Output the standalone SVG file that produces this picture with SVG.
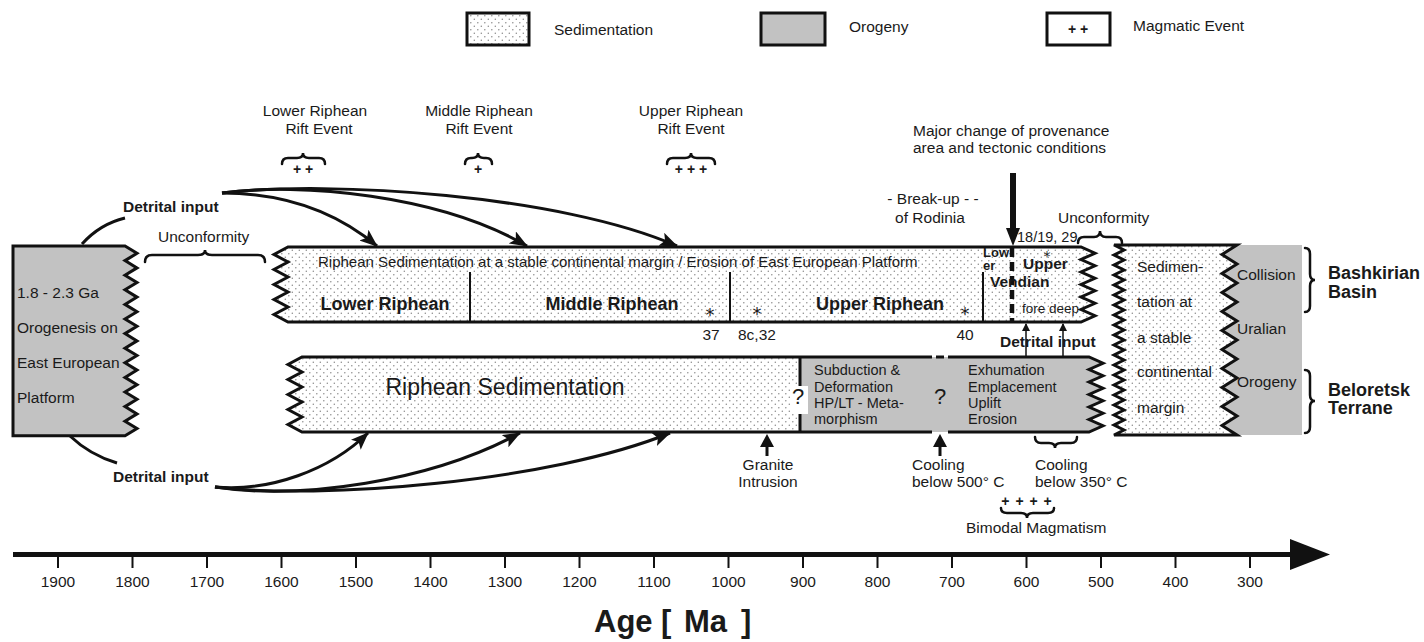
<svg xmlns="http://www.w3.org/2000/svg" width="1424" height="642" viewBox="0 0 1424 642">
<defs>
<pattern id="dots" patternUnits="userSpaceOnUse" width="7" height="7">
<rect width="7" height="7" fill="#ffffff"/>
<circle cx="1.8" cy="1.8" r="0.75" fill="#8a8a8a"/>
<circle cx="5.3" cy="5.3" r="0.75" fill="#8a8a8a"/>
</pattern>
<marker id="ah" markerUnits="userSpaceOnUse" markerWidth="20" markerHeight="14" refX="17" refY="7" orient="auto">
<path d="M0,0 L18,7 L0,14 L4,7 Z" fill="#111"/>
</marker>
<marker id="ahs" markerUnits="userSpaceOnUse" markerWidth="8" markerHeight="8" refX="7" refY="4" orient="auto">
<path d="M0,0 L8,4 L0,8 Z" fill="#111"/>
</marker>
<style>
.t{font-family:"Liberation Sans",Arial,sans-serif;fill:#1a1a1a;font-size:15.5px}
.b{font-weight:bold}
.m{text-anchor:middle}
.box{stroke:#111;stroke-width:3;stroke-linejoin:miter}
.gray{fill:#c2c2c2}
.ln{fill:none;stroke:#111;stroke-width:3}
.thin{fill:none;stroke:#111;stroke-width:2}
.br{fill:none;stroke:#111;stroke-width:2.5;stroke-linecap:round}
.ast{font-family:"DejaVu Sans",sans-serif;fill:#1a1a1a;font-size:18px;text-anchor:middle}
</style>
</defs>
<rect width="1424" height="642" fill="#ffffff"/>

<g id="legend">
<rect x="467" y="13" width="62" height="32" fill="url(#dots)" class="box"/>
<text x="554" y="35" class="t">Sedimentation</text>
<rect x="761" y="13" width="64" height="32" class="box gray"/>
<text x="849" y="32" class="t">Orogeny</text>
<rect x="1047" y="13" width="63" height="32" fill="#fff" class="box"/>
<text x="1078" y="34" class="t b m" style="font-size:14px">+ +</text>
<text x="1133" y="31" class="t">Magmatic Event</text>
</g>

<g id="rift-events">
<text x="315" y="116" class="t m">Lower Riphean</text>
<text x="319" y="134" class="t m">Rift Event</text>
<path class="br" d="M282,164 Q282,158 288,158 L297,158 Q303,158 303,153 Q303,158 309,158 L319,158 Q325,158 325,164"/>
<text x="303" y="174" class="t b m" style="font-size:14px">+ +</text>
<text x="479" y="116" class="t m">Middle Riphean</text>
<text x="479" y="134" class="t m">Rift Event</text>
<path class="br" d="M465,164 Q465,158 471,158 L472,158 Q478,158 478,153 Q478,158 484,158 L486,158 Q492,158 492,164"/>
<text x="478" y="174" class="t b m" style="font-size:14px">+</text>
<text x="691" y="116" class="t m">Upper Riphean</text>
<text x="691" y="134" class="t m">Rift Event</text>
<path class="br" d="M667,164 Q667,158 673,158 L685,158 Q691,158 691,153 Q691,158 697,158 L709,158 Q715,158 715,164"/>
<text x="691" y="174" class="t b m" style="font-size:14px">+ + +</text>
</g>

<g id="provenance">
<text x="913" y="136" class="t">Major change of provenance</text>
<text x="913" y="153" class="t">area and tectonic conditions</text>
<line x1="1013" y1="173" x2="1013" y2="230" stroke="#111" stroke-width="6"/>
<path d="M1006,228 L1020,228 L1013,246 Z" fill="#111"/>
<text x="933" y="204" class="t m">- Break-up - -</text>
<text x="930" y="223" class="t m">of Rodinia</text>
</g>

<g id="platform">
<path class="box gray" d="M13,246 H125 l12,7.3 l-12,7.3 l12,7.3 l-12,7.3 l12,7.3 l-12,7.3 l12,7.3 l-12,7.3 l12,7.3 l-12,7.3 l12,7.3 l-12,7.3 l12,7.3 l-12,7.3 l12,7.3 l-12,7.3 l12,7.3 l-12,7.3 l12,7.3 l-12,7.3 l12,7.3 l-12,7.3 l12,7.3 l-12,7.3 l12,7.3 l-12,7.3 H13 Z"/>
<text x="17" y="298" class="t">1.8 - 2.3 Ga</text>
<text x="17" y="333" class="t">Orogenesis on</text>
<text x="17" y="368" class="t">East European</text>
<text x="17" y="403" class="t">Platform</text>
</g>

<g id="unconformity-left">
<text x="158" y="242" class="t">Unconformity</text>
<path class="br" d="M145,262 Q145,255 152,255 L198,255 Q205,255 205,250 Q205,255 212,255 L258,255 Q265,255 265,262"/>
</g>

<g id="bashkirian-band">
<path class="box" fill="url(#dots)" d="M288,247 H1081 l14,6.25 l-14,6.25 l14,6.25 l-14,6.25 l14,6.25 l-14,6.25 l14,6.25 l-14,6.25 l14,6.25 l-14,6.25 l14,6.25 l-14,6.25 H288 l-14,-7.5 l14,-7.5 l-14,-7.5 l14,-7.5 l-14,-7.5 l14,-7.5 l-14,-7.5 l14,-7.5 l-14,-7.5 l14,-7.5 Z"/>
<line x1="470" y1="272" x2="470" y2="322" class="thin"/>
<line x1="730" y1="272" x2="730" y2="322" class="thin"/>
<line x1="983" y1="272" x2="983" y2="322" class="thin"/>
<line x1="1012" y1="248" x2="1012" y2="322" stroke="#111" stroke-width="4.5" stroke-dasharray="9,5"/>
<text x="318" y="267" class="t" style="font-size:15px">Riphean Sedimentation at a stable continental margin / Erosion of East European Platform</text>
<text x="385" y="310" class="t b m" style="font-size:18px">Lower Riphean</text>
<text x="612" y="310" class="t b m" style="font-size:18px">Middle Riphean</text>
<text x="880" y="310" class="t b m" style="font-size:18px">Upper Riphean</text>
<text x="983" y="257" class="t b" style="font-size:13px">Low</text>
<text x="983" y="270" class="t b" style="font-size:13px">er</text>
<text class="t b" style="font-size:15.5px"><tspan x="1047" y="261" style="font-family:'DejaVu Sans',sans-serif;font-weight:normal;font-size:14px;text-anchor:middle">*</tspan><tspan x="1023" y="269">Upper</tspan></text>
<text x="990" y="287" class="t b" style="font-size:15.5px">Vendian</text>
<text x="1022" y="313" class="t" style="font-size:13.5px">fore deep</text>
<text x="710" y="321" class="ast">*</text>
<text x="757" y="320" class="ast">*</text>
<text x="965" y="320" class="ast">*</text>
<text x="711" y="340" class="t m">37</text>
<text x="738" y="340" class="t">8c,32</text>
<text x="965" y="340" class="t m">40</text>
<text x="1017" y="242" class="t" style="font-size:14.5px">18/19, 29</text>
</g>

<g id="unconformity-right">
<text x="1058" y="223" class="t">Unconformity</text>
<path class="br" d="M1078,243 Q1078,237 1084,237 L1094,237 Q1100,237 1100,231 Q1100,237 1106,237 L1116,237 Q1122,237 1122,243"/>
</g>

<g id="beloretsk-band">
<path fill="url(#dots)" d="M302,357 H800 V432 H302 l-14,-7.5 l14,-7.5 l-14,-7.5 l14,-7.5 l-14,-7.5 l14,-7.5 l-14,-7.5 l14,-7.5 l-14,-7.5 l14,-7.5 Z"/>
<path class="gray" d="M800,357 H1089 l14,6.25 l-14,6.25 l14,6.25 l-14,6.25 l14,6.25 l-14,6.25 l14,6.25 l-14,6.25 l14,6.25 l-14,6.25 l14,6.25 l-14,6.25 H800 Z"/>
<path class="ln" stroke-linejoin="miter" d="M932,357 H302 l-14,7.5 l14,7.5 l-14,7.5 l14,7.5 l-14,7.5 l14,7.5 l-14,7.5 l14,7.5 l-14,7.5 l14,7.5 H932 M948,357 H1089 l14,6.25 l-14,6.25 l14,6.25 l-14,6.25 l14,6.25 l-14,6.25 l14,6.25 l-14,6.25 l14,6.25 l-14,6.25 l14,6.25 l-14,6.25 H948 M936,357 H944"/>
<line x1="800" y1="357" x2="800" y2="386" class="ln"/>
<line x1="800" y1="414" x2="800" y2="432" class="ln"/>
<rect x="791" y="386" width="17" height="28" fill="#fff"/>
<text x="798" y="404" class="t m" style="font-size:22px">?</text>
<text x="940" y="404" class="t m" style="font-size:22px">?</text>
<text x="505" y="395" class="t m" style="font-size:23px">Riphean Sedimentation</text>
<text x="814" y="375" class="t" style="font-size:14.5px">Subduction &amp;</text>
<text x="814" y="392" class="t" style="font-size:14.5px">Deformation</text>
<text x="814" y="408" class="t" style="font-size:14.5px">HP/LT - Meta-</text>
<text x="814" y="424" class="t" style="font-size:14.5px">morphism</text>
<text x="968" y="375" class="t" style="font-size:14.5px">Exhumation</text>
<text x="968" y="392" class="t" style="font-size:14.5px">Emplacement</text>
<text x="968" y="408" class="t" style="font-size:14.5px">Uplift</text>
<text x="968" y="424" class="t" style="font-size:14.5px">Erosion</text>
</g>

<g id="uralian-block">
<rect x="1222" y="245" width="80" height="190" class="gray"/>
<path class="box" fill="url(#dots)" d="M1114,245 H1237 l-15,9.5 l15,9.5 l-15,9.5 l15,9.5 l-15,9.5 l15,9.5 l-15,9.5 l15,9.5 l-15,9.5 l15,9.5 l-15,9.5 l15,9.5 l-15,9.5 l15,9.5 l-15,9.5 l15,9.5 l-15,9.5 l15,9.5 l-15,9.5 l15,9.5 H1114 l10,-5 l-10,-5 l10,-5 l-10,-5 l10,-5 l-10,-5 l10,-5 l-10,-5 l10,-5 l-10,-5 l10,-5 l-10,-5 l10,-5 l-10,-5 l10,-5 l-10,-5 l10,-5 l-10,-5 l10,-5 l-10,-5 l10,-5 l-10,-5 l10,-5 l-10,-5 l10,-5 l-10,-5 l10,-5 l-10,-5 l10,-5 l-10,-5 l10,-5 l-10,-5 l10,-5 l-10,-5 l10,-5 l-10,-5 l10,-5 l-10,-5 Z"/>
<text x="1137" y="272" class="t">Sedimen-</text>
<text x="1137" y="307" class="t">tation at</text>
<text x="1137" y="343" class="t">a stable</text>
<text x="1137" y="377" class="t">continental</text>
<text x="1137" y="413" class="t">margin</text>
<text x="1237" y="280" class="t">Collision</text>
<text x="1237" y="334" class="t">Uralian</text>
<text x="1237" y="387" class="t">Orogeny</text>
</g>

<g id="unit-labels">
<path class="br" d="M1305,248 Q1310,248 1310,254 L1310,274 Q1310,280 1315,280 Q1310,280 1310,286 L1310,306 Q1310,312 1305,312"/>
<path class="br" d="M1305,370 Q1310,370 1310,376 L1310,395 Q1310,401 1315,401 Q1310,401 1310,407 L1310,427 Q1310,433 1305,433"/>
<text x="1328" y="279" class="t b" style="font-size:18px">Bashkirian</text>
<text x="1328" y="298" class="t b" style="font-size:18px">Basin</text>
<text x="1328" y="396" class="t b" style="font-size:18px">Beloretsk</text>
<text x="1328" y="414" class="t b" style="font-size:18px">Terrane</text>
</g>

<g id="events-below">
<line x1="767" y1="445" x2="767" y2="456" stroke="#111" stroke-width="3"/>
<path d="M760,447 L767,434 L774,447 Z" fill="#111"/>
<text x="768" y="470" class="t m">Granite</text>
<text x="768" y="487" class="t m">Intrusion</text>
<line x1="940" y1="445" x2="940" y2="456" stroke="#111" stroke-width="3"/>
<path d="M933,447 L940,434 L947,447 Z" fill="#111"/>
<text x="912" y="470" class="t">Cooling</text>
<text x="912" y="487" class="t">below 500° C</text>
<path class="br" d="M1035,437 Q1035,443 1041,443 L1049,443 Q1055,443 1055,448 Q1055,443 1061,443 L1071,443 Q1077,443 1077,437"/>
<text x="1035" y="470" class="t">Cooling</text>
<text x="1035" y="487" class="t">below 350° C</text>
<text x="1027" y="506" class="t b m" style="font-size:14px;letter-spacing:1px">+ + + +</text>
<path class="br" d="M1001,508 Q1001,513 1007,513 L1021,513 Q1027,513 1027,518 Q1027,513 1033,513 L1048,513 Q1054,513 1054,508"/>
<text x="966" y="533" class="t">Bimodal Magmatism</text>
<text x="1000" y="347" class="t b">Detrital input</text>
</g>

<g id="detrital-inputs">
<text x="123" y="212" class="t b">Detrital input</text>
<text x="113" y="482" class="t b">Detrital input</text>
</g>

<g id="connectors">
<path class="ln" d="M82,244 Q100,224 125,218"/>
<path class="ln" d="M70,436 Q90,455 117,463"/>
<path class="ln" marker-end="url(#ah)" d="M222,193 C290,193 340,215 377,246"/>
<path class="ln" marker-end="url(#ah)" d="M222,193 C300,182 440,195 527,246"/>
<path class="ln" marker-end="url(#ah)" d="M222,193 C330,180 560,195 677,246"/>
<path class="ln" marker-end="url(#ah)" d="M215,487 C270,492 330,470 368,433"/>
<path class="ln" marker-end="url(#ah)" d="M215,487 C300,500 430,482 520,433"/>
<path class="ln" marker-end="url(#ah)" d="M215,487 C320,500 550,482 670,433"/>
<line x1="1026" y1="357" x2="1026" y2="324" stroke="#111" stroke-width="1.5" marker-end="url(#ahs)"/>
<line x1="1063" y1="357" x2="1063" y2="324" stroke="#111" stroke-width="1.5" marker-end="url(#ahs)"/>
</g>

<g id="age-axis">
<line x1="13" y1="554.5" x2="1295" y2="554.5" stroke="#111" stroke-width="5"/>
<path d="M1290,539 L1330,554.5 L1290,570 Z" fill="#111"/>
<g stroke="#111" stroke-width="2">
<line x1="58" y1="554" x2="58" y2="568"/><line x1="132.5" y1="554" x2="132.5" y2="568"/><line x1="207" y1="554" x2="207" y2="568"/><line x1="281.5" y1="554" x2="281.5" y2="568"/><line x1="356" y1="554" x2="356" y2="568"/><line x1="430.5" y1="554" x2="430.5" y2="568"/><line x1="505" y1="554" x2="505" y2="568"/><line x1="579.5" y1="554" x2="579.5" y2="568"/><line x1="654" y1="554" x2="654" y2="568"/><line x1="728.5" y1="554" x2="728.5" y2="568"/><line x1="803" y1="554" x2="803" y2="568"/><line x1="877.5" y1="554" x2="877.5" y2="568"/><line x1="952" y1="554" x2="952" y2="568"/><line x1="1026.5" y1="554" x2="1026.5" y2="568"/><line x1="1101" y1="554" x2="1101" y2="568"/><line x1="1175.5" y1="554" x2="1175.5" y2="568"/><line x1="1250" y1="554" x2="1250" y2="568"/>
</g>
<text x="58" y="587" class="t m">1900</text><text x="132.5" y="587" class="t m">1800</text><text x="207" y="587" class="t m">1700</text><text x="281.5" y="587" class="t m">1600</text><text x="356" y="587" class="t m">1500</text><text x="430.5" y="587" class="t m">1400</text><text x="505" y="587" class="t m">1300</text><text x="579.5" y="587" class="t m">1200</text><text x="654" y="587" class="t m">1100</text><text x="728.5" y="587" class="t m">1000</text><text x="803" y="587" class="t m">900</text><text x="877.5" y="587" class="t m">800</text><text x="952" y="587" class="t m">700</text><text x="1026.5" y="587" class="t m">600</text><text x="1101" y="587" class="t m">500</text><text x="1175.5" y="587" class="t m">400</text><text x="1250" y="587" class="t m">300</text>
<text y="632" class="t b" style="font-size:31px"><tspan x="594">Age</tspan><tspan x="661">[</tspan><tspan x="684">Ma</tspan><tspan x="741">]</tspan></text>
</g>
</svg>
